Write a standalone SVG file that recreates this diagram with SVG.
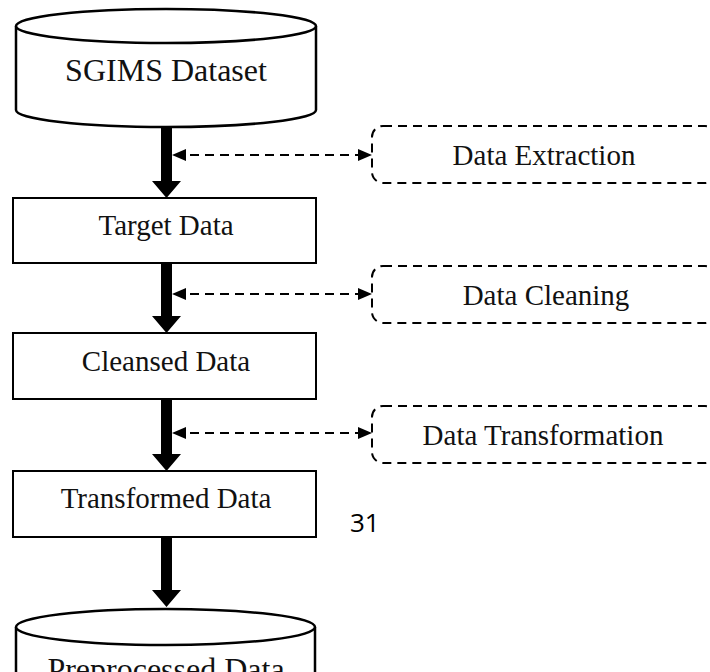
<svg xmlns="http://www.w3.org/2000/svg" width="710" height="672" viewBox="0 0 710 672">
  <style>
    .shape { fill: #ffffff; stroke: #000000; stroke-width: 2.5; }
    .box { fill: #ffffff; stroke: #000000; stroke-width: 2; }
    .step { fill: none; stroke: #000000; stroke-width: 2; stroke-dasharray: 9 6; }
    .label { font-family: "Liberation Serif", "Times New Roman", serif; font-size: 29px; fill: #111111; text-anchor: middle; }
    .big { font-size: 32px; }
    .flow { fill: #000000; stroke: none; }
    .link { stroke: #000000; stroke-width: 2; stroke-dasharray: 9 6; fill: none; }
    .page { font-family: "Open Sans", "Liberation Sans", sans-serif; font-size: 26px; fill: #000000; }
  </style>
  <defs>
    <marker id="tip" viewBox="0 0 14 12" refX="11" refY="6" markerWidth="14" markerHeight="12" markerUnits="userSpaceOnUse" orient="auto-start-reverse">
      <path d="M0,0 L14,6 L0,12 Z" fill="#000000"/>
    </marker>
  </defs>

  <rect width="710" height="672" fill="#ffffff"/>

  <!-- source database -->
  <g id="sgims-dataset">
    <path class="shape" d="M16,26 V110 A150,17 0 0 0 316,110 V26"/>
    <ellipse class="shape" cx="166" cy="26" rx="150" ry="17"/>
    <text class="label big" x="166" y="81">SGIMS Dataset</text>
  </g>

  <g id="target-data">
    <rect class="box" x="13" y="198" width="303" height="65"/>
    <text class="label" x="166" y="235">Target Data</text>
  </g>

  <g id="cleansed-data">
    <rect class="box" x="13" y="333" width="303" height="66"/>
    <text class="label" x="166" y="371">Cleansed Data</text>
  </g>

  <g id="transformed-data">
    <rect class="box" x="13" y="471" width="303" height="66"/>
    <text class="label" x="166" y="508">Transformed Data</text>
  </g>

  <!-- result database, runs off the bottom edge -->
  <g id="preprocessed-data">
    <path class="shape" d="M16,627 V700 H315 V627"/>
    <ellipse class="shape" cx="165.5" cy="627" rx="149.5" ry="18"/>
    <text class="label big" x="166" y="680">Preprocessed Data</text>
  </g>

  <!-- preprocessing steps -->
  <g id="data-extraction">
    <rect class="step" x="372" y="126" width="344" height="57" rx="11"/>
    <text class="label" x="544" y="165">Data Extraction</text>
  </g>

  <g id="data-cleaning">
    <rect class="step" x="372" y="266" width="344" height="57" rx="11"/>
    <text class="label" x="546" y="305">Data Cleaning</text>
  </g>

  <g id="data-transformation">
    <rect class="step" x="372" y="406" width="344" height="57" rx="11"/>
    <text class="label" x="543" y="445">Data Transformation</text>
  </g>

  <text class="page" x="350" y="532">31</text>

  <g id="connectors">
    <!-- main flow -->
    <path class="flow" d="M161,127 H172 V181 H181 L166.5,198 L152,181 H161 Z"/>
    <path class="flow" d="M161,263 H172 V316 H181 L166.5,333 L152,316 H161 Z"/>
    <path class="flow" d="M161,399 H172 V454 H181 L166.5,471 L152,454 H161 Z"/>
    <path class="flow" d="M161,537 H172 V590 H181 L166.5,607 L152,590 H161 Z"/>
    <!-- step links -->
    <line class="link" x1="175" y1="155" x2="369" y2="155" marker-start="url(#tip)" marker-end="url(#tip)"/>
    <line class="link" x1="175" y1="294" x2="369" y2="294" marker-start="url(#tip)" marker-end="url(#tip)"/>
    <line class="link" x1="175" y1="433" x2="369" y2="433" marker-start="url(#tip)" marker-end="url(#tip)"/>
  </g>
</svg>
